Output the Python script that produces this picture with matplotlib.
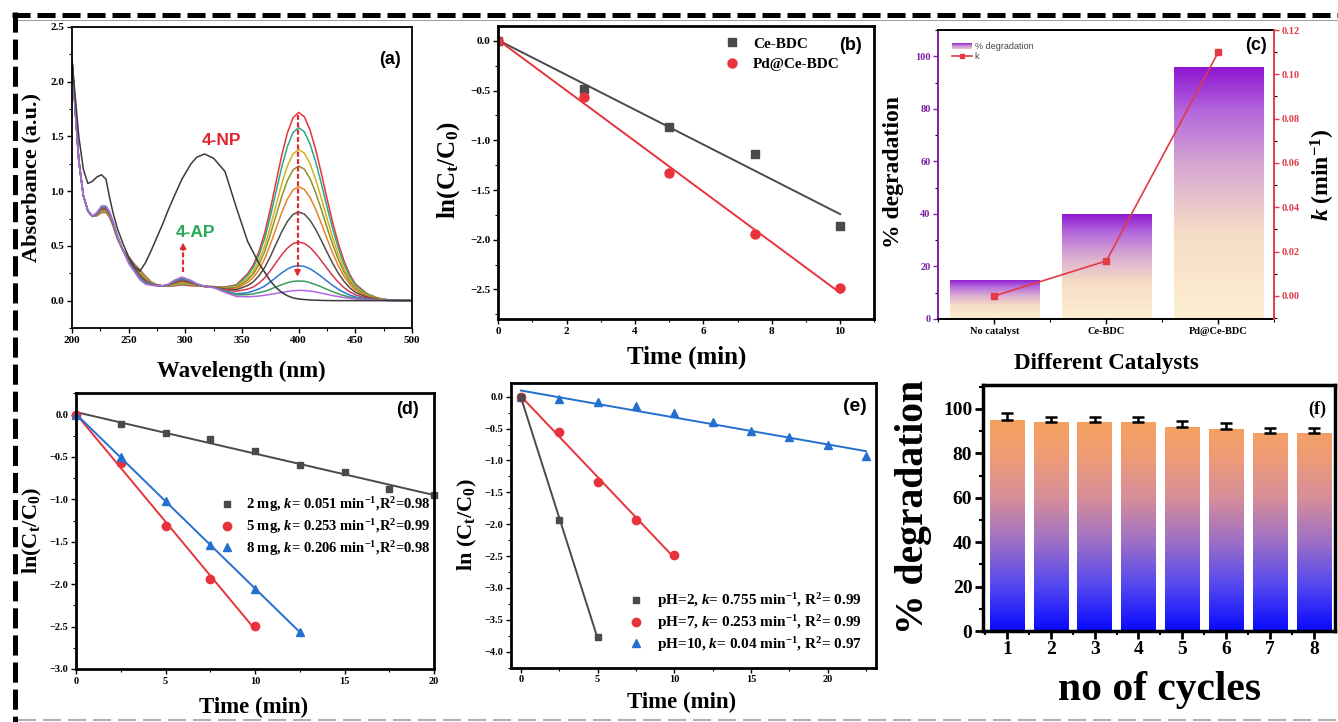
import numpy as np
import matplotlib
matplotlib.use('Agg')
import matplotlib.pyplot as plt
from matplotlib.colors import LinearSegmentedColormap, Normalize
from matplotlib.lines import Line2D
from matplotlib.patches import Rectangle
from matplotlib.ticker import MultipleLocator
from matplotlib.legend_handler import HandlerBase

plt.rcParams.update({
    'font.family': ['Liberation Serif', 'DejaVu Serif'],
    'font.weight': 'bold',
    'mathtext.fontset': 'custom',
    'mathtext.rm': 'Liberation Serif:bold',
    'mathtext.it': 'Liberation Serif:bold:italic',
    'mathtext.bf': 'Liberation Serif:bold',
    'xtick.direction': 'out',
    'ytick.direction': 'out',
    'lines.scale_dashes': False,
})

# ---------------- data ----------------
# (a) UV-vis spectra
wavelength = [200, 203, 206, 210, 214, 218, 222, 226, 230, 233, 236, 240, 245, 250, 255, 260, 265, 270,
              275, 280, 285, 290, 297, 305, 310, 317,
              325, 335, 345, 355, 360, 365, 370, 375, 380, 385, 390, 395, 400, 405, 410, 415, 420, 425,
              430, 435, 440, 445, 450, 460, 470, 480, 500]
abs_4np = [2.20, 1.85, 1.50, 1.20, 1.07, 1.09, 1.13, 1.15, 1.11, 0.95, 0.81, 0.66, 0.52, 0.40, 0.31, 0.27, 0.35, 0.46,
           0.58, 0.70, 0.83, 0.95, 1.11, 1.25, 1.31, 1.34,
           1.30, 1.18, 0.85, 0.54, 0.44, 0.34, 0.26, 0.18, 0.12, 0.075, 0.045, 0.025, 0.015, 0.01, 0.006, 0.004, 0.002, 0.001,
           0, 0, 0, 0, 0, 0, 0, 0, 0]
abs_t1 = [2.20, 1.72, 1.28, 0.96, 0.82, 0.77, 0.775, 0.805, 0.805, 0.765, 0.69, 0.565, 0.46, 0.40, 0.335, 0.28, 0.22, 0.17,
          0.145, 0.135, 0.13, 0.135, 0.145, 0.135, 0.135, 0.13,
          0.128, 0.124, 0.144, 0.247, 0.326, 0.450, 0.616, 0.835, 1.081, 1.324, 1.531, 1.671, 1.720, 1.680, 1.560, 1.380, 1.164, 0.933,
          0.715, 0.521, 0.363, 0.240, 0.153, 0.065, 0.023, 0.006, 0.0]
abs_t2 = [2.20, 1.72, 1.28, 0.96, 0.82, 0.77, 0.778, 0.812, 0.812, 0.771, 0.694, 0.568, 0.46, 0.393, 0.327, 0.27, 0.212, 0.167,
          0.144, 0.135, 0.132, 0.141, 0.153, 0.141, 0.137, 0.13,
          0.128, 0.121, 0.137, 0.230, 0.303, 0.416, 0.568, 0.769, 0.994, 1.217, 1.407, 1.535, 1.580, 1.543, 1.433, 1.268, 1.069, 0.858,
          0.657, 0.479, 0.334, 0.222, 0.141, 0.060, 0.022, 0.006, 0.0]
abs_t3 = [2.20, 1.72, 1.28, 0.96, 0.82, 0.77, 0.782, 0.818, 0.818, 0.776, 0.699, 0.572, 0.46, 0.387, 0.319, 0.26, 0.204, 0.163,
          0.143, 0.135, 0.134, 0.146, 0.161, 0.146, 0.139, 0.13,
          0.127, 0.117, 0.127, 0.206, 0.269, 0.367, 0.499, 0.674, 0.870, 1.064, 1.229, 1.341, 1.380, 1.348, 1.252, 1.107, 0.935, 0.750,
          0.575, 0.420, 0.293, 0.195, 0.124, 0.053, 0.019, 0.005, 0.0]
abs_t4 = [2.20, 1.72, 1.28, 0.96, 0.82, 0.77, 0.785, 0.825, 0.825, 0.782, 0.703, 0.575, 0.46, 0.38, 0.312, 0.25, 0.197, 0.16,
          0.142, 0.135, 0.137, 0.152, 0.168, 0.152, 0.142, 0.13,
          0.126, 0.114, 0.120, 0.188, 0.243, 0.330, 0.447, 0.603, 0.777, 0.949, 1.096, 1.195, 1.230, 1.201, 1.116, 0.987, 0.833, 0.669,
          0.513, 0.375, 0.262, 0.174, 0.112, 0.048, 0.017, 0.005, 0.0]
abs_t5 = [2.20, 1.72, 1.28, 0.96, 0.82, 0.77, 0.788, 0.832, 0.832, 0.787, 0.708, 0.578, 0.46, 0.373, 0.304, 0.24, 0.189, 0.157,
          0.141, 0.135, 0.139, 0.157, 0.176, 0.157, 0.144, 0.13,
          0.125, 0.110, 0.110, 0.166, 0.211, 0.283, 0.382, 0.512, 0.659, 0.804, 0.927, 1.011, 1.040, 1.016, 0.944, 0.835, 0.705, 0.567,
          0.435, 0.319, 0.223, 0.149, 0.095, 0.041, 0.015, 0.004, 0.0]
abs_t6 = [2.20, 1.72, 1.28, 0.96, 0.82, 0.77, 0.792, 0.838, 0.838, 0.793, 0.712, 0.582, 0.46, 0.367, 0.296, 0.23, 0.181, 0.153,
          0.139, 0.135, 0.141, 0.163, 0.184, 0.163, 0.146, 0.13,
          0.124, 0.106, 0.099, 0.138, 0.172, 0.227, 0.302, 0.403, 0.516, 0.628, 0.723, 0.788, 0.810, 0.791, 0.735, 0.651, 0.550, 0.443,
          0.341, 0.250, 0.176, 0.118, 0.076, 0.033, 0.012, 0.003, 0.0]
abs_t7 = [2.20, 1.72, 1.28, 0.96, 0.82, 0.77, 0.795, 0.845, 0.845, 0.798, 0.717, 0.585, 0.46, 0.36, 0.288, 0.22, 0.173, 0.15,
          0.138, 0.135, 0.143, 0.168, 0.192, 0.168, 0.148, 0.13,
          0.123, 0.100, 0.085, 0.105, 0.125, 0.160, 0.208, 0.273, 0.346, 0.418, 0.479, 0.521, 0.535, 0.523, 0.486, 0.431, 0.365, 0.295,
          0.228, 0.168, 0.119, 0.081, 0.053, 0.024, 0.009, 0.003, 0.0]
abs_t8 = [2.20, 1.72, 1.28, 0.96, 0.82, 0.77, 0.798, 0.852, 0.852, 0.804, 0.721, 0.588, 0.46, 0.353, 0.281, 0.21, 0.166, 0.147,
          0.137, 0.135, 0.146, 0.174, 0.199, 0.174, 0.151, 0.13,
          0.121, 0.090, 0.062, 0.072, 0.089, 0.107, 0.133, 0.170, 0.212, 0.253, 0.288, 0.312, 0.320, 0.313, 0.291, 0.258, 0.220, 0.179,
          0.139, 0.104, 0.075, 0.051, 0.034, 0.016, 0.006, 0.002, 0.0]
abs_t9 = [2.20, 1.72, 1.28, 0.96, 0.82, 0.77, 0.802, 0.858, 0.858, 0.809, 0.726, 0.592, 0.46, 0.347, 0.273, 0.20, 0.158, 0.143,
          0.136, 0.135, 0.148, 0.179, 0.207, 0.179, 0.153, 0.13,
          0.121, 0.085, 0.052, 0.055, 0.062, 0.073, 0.085, 0.104, 0.125, 0.146, 0.164, 0.176, 0.180, 0.177, 0.164, 0.146, 0.126, 0.103,
          0.082, 0.062, 0.046, 0.033, 0.022, 0.011, 0.005, 0.001, 0.0]
abs_t10 = [2.20, 1.72, 1.28, 0.96, 0.82, 0.77, 0.805, 0.865, 0.865, 0.815, 0.73, 0.595, 0.46, 0.34, 0.265, 0.19, 0.15, 0.14,
           0.135, 0.135, 0.15, 0.185, 0.215, 0.185, 0.155, 0.13,
           0.118, 0.075, 0.038, 0.035, 0.038, 0.042, 0.049, 0.057, 0.066, 0.075, 0.084, 0.090, 0.094, 0.092, 0.087, 0.080, 0.068, 0.058,
           0.046, 0.037, 0.028, 0.021, 0.015, 0.008, 0.003, 0.001, 0.0]
spectra = [abs_t1, abs_t2, abs_t3, abs_t4, abs_t5, abs_t6, abs_t7, abs_t8, abs_t9, abs_t10]
spectra_colors = ['#e8323c', '#2aa889', '#d4b21c', '#8f9128', '#e8822a', '#4d4d4d', '#d4384e', '#2a77cf', '#3b9d5a', '#b266e0']
arrow_np = [399, 1.70, 0.22]   # wavelength, start, end
arrow_ap = [298, 0.26, 0.53]

# (b) kinetics
time_b = [0, 2.5, 5, 7.5, 10]
ln_ce_bdc = [0, -0.48, -0.865, -1.133, -1.86]
ln_pd_ce_bdc = [0, -0.563, -1.324, -1.938, -2.49]

# (c) catalysts
catalysts = ['No catalyst', 'Ce-BDC', 'Pd@Ce-BDC']
degradation_c = [15, 40, 96]
k_c = [0.0, 0.0158, 0.110]

# (d) catalyst dose
time_2mg = [0, 2.5, 5, 7.5, 10, 12.5, 15, 17.5, 20]
ln_2mg = [0, -0.11, -0.22, -0.286, -0.43, -0.59, -0.68, -0.88, -0.95]
time_5mg = [0, 2.5, 5, 7.5, 10]
ln_5mg = [0, -0.57, -1.318, -1.94, -2.49]
time_8mg = [0, 2.5, 5, 7.5, 10, 12.5]
ln_8mg = [0, -0.50, -1.02, -1.535, -2.06, -2.56]

# (e) pH
time_ph2 = [0, 2.5, 5]
ln_ph2 = [0, -1.93, -3.775]
time_ph7 = [0, 2.5, 5, 7.5, 10]
ln_ph7 = [0, -0.56, -1.33, -1.93, -2.48]
time_ph10 = [0, 2.5, 5, 7.5, 10, 12.5, 15, 17.5, 20, 22.5]
ln_ph10 = [0, -0.04, -0.09, -0.146, -0.26, -0.39, -0.54, -0.63, -0.76, -0.93]

# (f) recycling
cycles = [1, 2, 3, 4, 5, 6, 7, 8]
degradation_f = [95, 94, 94, 94, 92, 91, 89, 89]
error_f = [3, 2.5, 2.5, 2.5, 2.5, 2.5, 2.5, 2.5]

# ---------------- layout helpers ----------------
W, H = 1338, 722
fig = plt.figure(figsize=(W / 100, H / 100), dpi=100)

BOX_A = (72, 27, 412, 328)
BOX_B = (498.3, 26, 874.3, 319.3)
BOX_C = (938.3, 30, 1274.3, 319)
BOX_D = (76, 393.3, 434, 669)
BOX_E = (510.7, 383.3, 876, 667.7)
BOX_F = (982.7, 385, 1335, 631)


def make_ax(box):
    l, t, r, b = box
    return fig.add_axes([l / W, 1 - b / H, (r - l) / W, (b - t) / H])


def frac(box, x, y):
    l, t, r, b = box
    return (x - l) / (r - l), (b - y) / (b - t)


def xlab(ax, box, text, x, y, size):
    ax.set_xlabel(text, fontsize=size, fontweight='bold')
    ax.xaxis.set_label_coords(*frac(box, x, y))
    ax.xaxis.label.set_va('center')


def ylab(ax, box, text, x, y, size, axis=None):
    a = axis if axis is not None else ax
    a.set_ylabel(text, fontsize=size, fontweight='bold', rotation=90)
    a.yaxis.set_label_coords(*frac(box, x, y))
    a.yaxis.label.set_va('center')
    a.yaxis.label.set_ha('center')


def panel_label(ax, box, text, x, y, size=13, family='Liberation Sans'):
    ax.text(*frac(box, x, y), text, transform=ax.transAxes, ha='center', va='center',
            fontsize=size, fontweight='bold', family=family)


def style(ax, lw=1.5, size=8.5, major=3.5, minor=2.0):
    for s in ax.spines.values():
        s.set_linewidth(lw)
    ax.tick_params(which='major', length=major, width=1.0, labelsize=size, pad=2)
    ax.tick_params(which='minor', length=minor, width=0.8)


RED = '#e8333d'
GRAY = '#4a4a4a'
BLUE = '#2470d0'

# ---------------- (a) ----------------
axa = make_ax(BOX_A)
for vals, col in zip(spectra, spectra_colors):
    axa.plot(wavelength, vals, color=col, lw=1.1)
axa.plot(wavelength, abs_4np, color='#3a3a3a', lw=1.1)
for (xw, ys, ye) in (arrow_np, arrow_ap):
    sign = 1 if ye < ys else -1
    axa.plot([xw, xw], [ys, ye + sign * 0.05], ls=(0, (3.5, 1.8)), color='#e02a30', lw=1.6)
    axa.annotate('', xy=(xw, ye), xytext=(xw, ye + sign * 0.07),
                 arrowprops=dict(arrowstyle='-|>,head_length=0.35,head_width=0.18', color='#e02a30',
                                 lw=1.2, shrinkA=0, shrinkB=0))
axa.text(332, 1.46, '4-NP', color='#e0262e', fontsize=12.5, fontweight='bold', family='Liberation Sans',
         ha='center', va='center')
axa.text(309, 0.62, '4-AP', color='#22aa55', fontsize=12.5, fontweight='bold', family='Liberation Sans',
         ha='center', va='center')
axa.set_xlim(200, 500)
axa.set_ylim(-0.25, 2.5)
axa.xaxis.set_major_locator(MultipleLocator(50))
axa.xaxis.set_minor_locator(MultipleLocator(25))
axa.yaxis.set_major_locator(MultipleLocator(0.5))
axa.yaxis.set_minor_locator(MultipleLocator(0.25))
style(axa, lw=1.3, size=8)
xlab(axa, BOX_A, 'Wavelength (nm)', 241, 371, 16.5)
ylab(axa, BOX_A, 'Absorbance (a.u.)', 31, 178, 16)
panel_label(axa, BOX_A, '(a)', 390, 60)

# ---------------- (b) ----------------
axb = make_ax(BOX_B)
for t, y, col, mk, lab, ms in ((time_b, ln_ce_bdc, GRAY, 's', 'Ce-BDC', 5.5),
                               (time_b, ln_pd_ce_bdc, RED, 'o', 'Pd@Ce-BDC', 6.5)):
    p = np.polyfit(t, y, 1)
    tt = np.array([min(t), max(t)])
    axb.plot(tt, np.polyval(p, tt), color=col, lw=1.4)
    axb.plot(t, y, mk, color=col, ms=ms, label=lab, ls='none')
axb.set_xlim(0, 11)
axb.set_ylim(-2.8, 0.15)
axb.xaxis.set_major_locator(MultipleLocator(2))
axb.xaxis.set_minor_locator(MultipleLocator(1))
axb.yaxis.set_major_locator(MultipleLocator(0.5))
axb.yaxis.set_minor_locator(MultipleLocator(0.25))
style(axb, lw=2.0, size=8)
axb.legend(loc='upper left', bbox_to_anchor=frac(BOX_B, 724, 37), frameon=False, fontsize=11,
           handlelength=1.0, handletextpad=0.9, labelspacing=0.45, borderpad=0, borderaxespad=0)
xlab(axb, BOX_B, 'Time (min)', 687, 357, 18)
ylab(axb, BOX_B, r'ln(C$_\mathrm{t}$/C$_\mathrm{0}$)', 449, 170, 18)
panel_label(axb, BOX_B, '(b)', 850, 45.5)

# ---------------- (c) ----------------
cmap_c = LinearSegmentedColormap.from_list('cgrad', [(0, '#fdf0d2'), (0.35, '#f6dcc6'), (0.6, '#d9aad2'),
                                                     (0.82, '#b468dc'), (1.0, '#8e14d2')])
axc = make_ax(BOX_C)
xc = np.arange(len(catalysts))
bars_c = axc.bar(xc, degradation_c, width=0.8, color='none', edgecolor='none', zorder=1)
grad = np.linspace(0, 1, 256).reshape(-1, 1)
for bar in bars_c:
    x0, y0, w, h = bar.get_x(), bar.get_y(), bar.get_width(), bar.get_height()
    im = axc.imshow(grad, extent=[x0, x0 + w, y0, y0 + h], origin='lower', aspect='auto', cmap=cmap_c, zorder=1)
    im.set_clip_path(bar)
axc.set_xlim(-0.5, 2.5)
axc.set_ylim(0, 110)
axc.set_xticks(xc)
axc.set_xticklabels(catalysts)
axc.xaxis.set_minor_locator(MultipleLocator(0.5))
axc.yaxis.set_major_locator(MultipleLocator(20))
axc.yaxis.set_minor_locator(MultipleLocator(10))
style(axc, lw=1.4, size=7.5)
PURPLE = '#7e1fa6'
KRED = '#e23a46'
axc.spines['left'].set_color(PURPLE)
axc.tick_params(axis='y', colors=PURPLE)
axc.spines['right'].set_visible(False)
axc2 = axc.twinx()
axc2.plot(xc, k_c, color=KRED, lw=1.2, marker='s', ms=4.5, label='k')
axc2.set_ylim(-0.0104, 0.12)
axc2.yaxis.set_major_locator(MultipleLocator(0.02))
axc2.yaxis.set_minor_locator(MultipleLocator(0.01))
style(axc2, lw=1.4, size=7.5)
for s in ('left', 'top', 'bottom'):
    axc2.spines[s].set_visible(False)
axc2.spines['right'].set_color(KRED)
axc2.tick_params(axis='y', colors=KRED)
axc.tick_params(axis='x', labelsize=7.5)


class HandlerGradient(HandlerBase):
    def create_artists(self, legend, orig_handle, xdescent, ydescent, width, height, fontsize, trans):
        arts = []
        n = 10
        for j in range(n):
            r = Rectangle((-xdescent, -ydescent + height * j / n), width, height / n + 0.01,
                          facecolor=cmap_c(0.45 + 0.55 * (j + 0.5) / n), edgecolor='none', transform=trans)
            arts.append(r)
        return arts


grad_handle = Rectangle((0, 0), 1, 1)
k_handle = Line2D([], [], color=KRED, lw=1.2, marker='s', ms=3.5)
axc2.legend([grad_handle, k_handle], ['% degradation', 'k'], handler_map={Rectangle: HandlerGradient()},
            loc='upper left', bbox_to_anchor=frac(BOX_C, 952, 42), frameon=False,
            prop={'family': 'Liberation Sans', 'size': 6.5, 'weight': 'normal'},
            handlelength=2.2, handletextpad=0.3, labelspacing=0.15, borderpad=0, borderaxespad=0,
            labelcolor='#444444')
xlab(axc, BOX_C, 'Different Catalysts', 1106, 363, 16.5)
ylab(axc, BOX_C, '% degradation', 894, 172, 17)
ylab(axc, BOX_C, r'$\mathit{k}$ (min$^{-1}$)', 1323, 175, 17, axis=axc2)
axc.yaxis.label.set_color('black')
axc2.yaxis.label.set_color('black')
panel_label(axc, BOX_C, '(c)', 1256.5, 45.5)

# ---------------- (d) ----------------
axd = make_ax(BOX_D)
series_d = ((time_2mg, ln_2mg, GRAY, 's', 5,
             r'2 mg, $\mathit{k}$= 0.051 min$^{-1}$,R$^{2}$=0.98'),
            (time_5mg, ln_5mg, RED, 'o', 6,
             r'5 mg, $\mathit{k}$= 0.253 min$^{-1}$,R$^{2}$=0.99'),
            (time_8mg, ln_8mg, BLUE, '^', 6,
             r'8 mg, $\mathit{k}$= 0.206 min$^{-1}$,R$^{2}$=0.98'))
for t, y, col, mk, ms, lab in series_d:
    p = np.polyfit(t, y, 1)
    tt = np.array([min(t), max(t)])
    axd.plot(tt, np.polyval(p, tt), color=col, lw=1.4)
    axd.plot(t, y, mk, color=col, ms=ms, ls='none', label=lab, clip_on=False)
axd.set_xlim(0, 20)
axd.set_ylim(-3.0, 0.25)
axd.xaxis.set_major_locator(MultipleLocator(5))
axd.xaxis.set_minor_locator(MultipleLocator(2.5))
axd.yaxis.set_major_locator(MultipleLocator(0.5))
axd.yaxis.set_minor_locator(MultipleLocator(0.25))
style(axd, lw=2.0, size=7.5)
axd.legend(loc='upper left', bbox_to_anchor=frac(BOX_D, 220, 495), frameon=False, fontsize=10.5,
           handlelength=1.0, handletextpad=0.8, labelspacing=0.2, borderpad=0, borderaxespad=0)
xlab(axd, BOX_D, 'Time (min)', 254, 707, 16.5)
ylab(axd, BOX_D, r'ln(C$_\mathrm{t}$/C$_\mathrm{0}$)', 32, 530, 16)
panel_label(axd, BOX_D, '(d)', 408, 409.5)

# ---------------- (e) ----------------
axe = make_ax(BOX_E)
series_e = ((time_ph10, ln_ph10, BLUE, '^', 6, r'pH=10, $\mathit{k}$= 0.04 min$^{-1}$, R$^{2}$= 0.97'),
            (time_ph7, ln_ph7, RED, 'o', 6, r'pH=7, $\mathit{k}$= 0.253 min$^{-1}$, R$^{2}$= 0.99'),
            (time_ph2, ln_ph2, GRAY, 's', 5, r'pH=2, $\mathit{k}$= 0.755 min$^{-1}$, R$^{2}$= 0.99'))
handles_e = {}
for t, y, col, mk, ms, lab in series_e:
    p = np.polyfit(t, y, 1)
    tt = np.array([min(t), max(t)])
    axe.plot(tt, np.polyval(p, tt), color=col, lw=1.4)
    h, = axe.plot(t, y, mk, color=col, ms=ms, ls='none', label=lab)
    handles_e[mk] = h
axe.set_xlim(-0.67, 23.16)
axe.set_ylim(-4.25, 0.21)
axe.xaxis.set_major_locator(MultipleLocator(5))
axe.xaxis.set_minor_locator(MultipleLocator(2.5))
axe.yaxis.set_major_locator(MultipleLocator(0.5))
axe.yaxis.set_minor_locator(MultipleLocator(0.25))
style(axe, lw=2.0, size=7.5)
hs = [handles_e['s'], handles_e['o'], handles_e['^']]
axe.legend(hs, [h.get_label() for h in hs], loc='upper left', bbox_to_anchor=frac(BOX_E, 628, 591),
           frameon=False, fontsize=11, handlelength=1.0, handletextpad=0.9, labelspacing=0.2,
           borderpad=0, borderaxespad=0)
xlab(axe, BOX_E, 'Time (min)', 682, 702, 16.5)
ylab(axe, BOX_E, r'ln (C$_\mathrm{t}$/C$_\mathrm{0}$)', 467, 525, 16)
panel_label(axe, BOX_E, '(e)', 854.5, 406.5, size=14)

# ---------------- (f) ----------------
cmap_f = LinearSegmentedColormap.from_list('fgrad', [(0, '#0a0aff'), (0.21, '#5247f0'), (0.42, '#9d6fc6'),
                                                     (0.63, '#d68e9a'), (0.84, '#f09c74'), (1.0, '#f5a25e')])
norm_f = Normalize(0, 95)
axf = make_ax(BOX_F)
bars_f = axf.bar(cycles, degradation_f, width=0.78, color='none', edgecolor='none', zorder=1)
for bar in bars_f:
    x0, y0, w, h = bar.get_x(), bar.get_y(), bar.get_width(), bar.get_height()
    g = np.linspace(y0, y0 + h, 256).reshape(-1, 1)
    im = axf.imshow(g, extent=[x0, x0 + w, y0, y0 + h], origin='lower', aspect='auto', cmap=cmap_f,
                    norm=norm_f, zorder=1)
    im.set_clip_path(bar)
axf.errorbar(cycles, degradation_f, yerr=[np.zeros(len(error_f)), error_f], fmt='none', ecolor='black',
             elinewidth=1.8, capsize=4, capthick=1.8, zorder=3)
axf.set_xlim(0.45, 8.48)
axf.set_ylim(0, 110.8)
axf.set_xticks(cycles)
axf.xaxis.set_minor_locator(MultipleLocator(0.5))
axf.yaxis.set_major_locator(MultipleLocator(20))
axf.yaxis.set_minor_locator(MultipleLocator(10))
style(axf, lw=2.5, size=14, major=5.5, minor=3)
axf.tick_params(which='major', width=2)
axf.tick_params(which='minor', width=1.5)
xlab(axf, BOX_F, 'no of cycles', 1160, 690, 30)
ylab(axf, BOX_F, '% degradation', 913, 507, 28.5)
panel_label(axf, BOX_F, '(f)', 1317, 409.5, size=13, family='Liberation Serif')

# ---------------- dashed frame ----------------
fig.add_artist(Line2D([12 / W, 1.0], [1 - 15 / H, 1 - 15 / H], transform=fig.transFigure, color='black',
                      lw=3.6, dashes=(13, 5)))
fig.add_artist(Line2D([15 / W, 15 / W], [1 - 12 / H, 0.0], transform=fig.transFigure, color='black',
                      lw=3.6, dashes=(14.5, 5)))
fig.add_artist(Line2D([18 / W, 1.0], [1 - 19.5 / H, 1 - 19.5 / H], transform=fig.transFigure, color='#9a9a9a',
                      lw=0.7))
fig.add_artist(Line2D([18 / W, 1.0], [1 - 720 / H, 1 - 720 / H], transform=fig.transFigure, color='#b0b0b0',
                      lw=1.5, dashes=(13, 5)))

fig.savefig('out.png', dpi=100)
